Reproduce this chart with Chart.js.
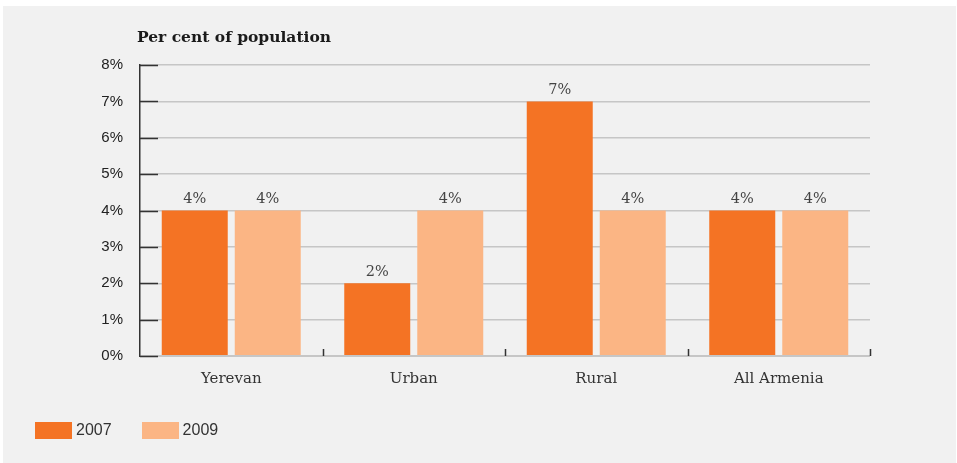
<!DOCTYPE html>
<html>
<head>
<meta charset="utf-8">
<script src="https://cdn.jsdelivr.net/npm/chart.js@4/dist/chart.umd.min.js"></script>
<style>
  body { margin: 0; background: #fff; }
  #panel { position: absolute; left: 3px; top: 6px; width: 953px; height: 457px; background: #f1f1f1; }
  #panel canvas { position: absolute; left: 0; top: 0; }
  .legend { position: absolute; top: 415px; left: 32px; display: flex; font: 16px "Liberation Sans", Arial, sans-serif; color: #333; }
  .legend span { display: flex; align-items: center; margin-right: 30px; }
  .legend i { display: inline-block; width: 37px; height: 17px; margin-right: 4px; }
</style>
</head>
<body>
<div id="panel">
  <canvas id="graph" width="953" height="457"></canvas>
  <div class="legend" id="legend"></div>
</div>
<script>
const regions = ["Yerevan", "Urban", "Rural", "All Armenia"];
const years = ["2007", "2009"];
const share2007 = [4, 2, 7, 4];
const share2009 = [4, 4, 4, 4];
const yearColours = ["#f47324", "#fbb584"];
const yTicks = [0, 1, 2, 3, 4, 5, 6, 7, 8];

const serif = '"DejaVu Serif", serif';
const sans = '"Liberation Sans", Arial, sans-serif';

// little dark ticks on the axes, value labels over the bars and the heading
const extras = {
  id: 'extras',
  beforeDatasetsDraw(chart) {
    const { ctx, chartArea, scales } = chart;
    ctx.save();
    ctx.strokeStyle = '#333';
    ctx.lineWidth = 1.5;
    ctx.beginPath();
    scales.y.ticks.forEach(t => {
      const py = Math.round(scales.y.getPixelForValue(t.value)) + 0.5;
      ctx.moveTo(chartArea.left, py);
      ctx.lineTo(chartArea.left + 18, py);
    });
    const n = regions.length;
    for (let i = 0; i < n; i++) {
      let px = i < n - 1 ? (scales.x.getPixelForTick(i) + scales.x.getPixelForTick(i + 1)) / 2 : chartArea.right;
      px = Math.round(px) + 0.5;
      ctx.moveTo(px, chartArea.bottom);
      ctx.lineTo(px, chartArea.bottom - 7);
    }
    ctx.stroke();
    ctx.restore();
  },
  afterDatasetsDraw(chart) {
    const { ctx, chartArea } = chart;
    ctx.save();
    ctx.font = '14.5px ' + serif;
    ctx.fillStyle = '#444';
    ctx.textAlign = 'center';
    ctx.textBaseline = 'bottom';
    chart.data.datasets.forEach((ds, i) => {
      chart.getDatasetMeta(i).data.forEach((bar, j) => {
        ctx.fillText(ds.data[j] + '%', bar.x, bar.y - 4);
      });
    });
    ctx.font = 'bold 15.5px ' + serif;
    ctx.fillStyle = '#1a1a1a';
    ctx.textAlign = 'left';
    ctx.textBaseline = 'middle';
    ctx.fillText('Per cent of population', chartArea.left - 3, 32);
    ctx.restore();
  }
};

const graph = document.getElementById('graph').getContext('2d');
const myChart = new Chart(graph, {
  type: 'bar',
  data: {
    labels: regions,
    datasets: [
      { label: years[0], data: share2007, backgroundColor: yearColours[0] },
      { label: years[1], data: share2009, backgroundColor: yearColours[1] }
    ]
  },
  options: {
    responsive: false,
    animation: false,
    categoryPercentage: 0.8,
    barPercentage: 0.904,
    layout: { padding: { left: 0, right: 86, top: 59, bottom: 67 } },
    plugins: {
      legend: { display: false },
      tooltip: { enabled: false }
    },
    scales: {
      x: {
        grid: { display: false },
        border: { display: false },
        ticks: { color: '#333', padding: 6, font: { family: serif, size: 15 } },
        afterFit(scale) { scale.height = 40; }
      },
      y: {
        min: 0,
        max: 8,
        afterBuildTicks(scale) { scale.ticks = yTicks.map(v => ({ value: v })); },
        grid: {
          drawTicks: false,
          color: '#c6c6c6',
          lineWidth: ctx => ctx.tick && ctx.tick.value === 0 ? 2 : 1.5
        },
        border: { color: '#333', width: 1.5 },
        ticks: {
          color: '#222',
          padding: 17,
          font: { family: sans, size: 15 },
          callback: v => v + '%'
        },
        afterFit(scale) { scale.width = 137; }
      }
    }
  },
  plugins: [extras]
});

// legend built from the same series names and colours
document.getElementById('legend').innerHTML = years
  .map((y, i) => `<span><i style="background:${yearColours[i]}"></i>${y}</span>`)
  .join('');
</script>
</body>
</html>
